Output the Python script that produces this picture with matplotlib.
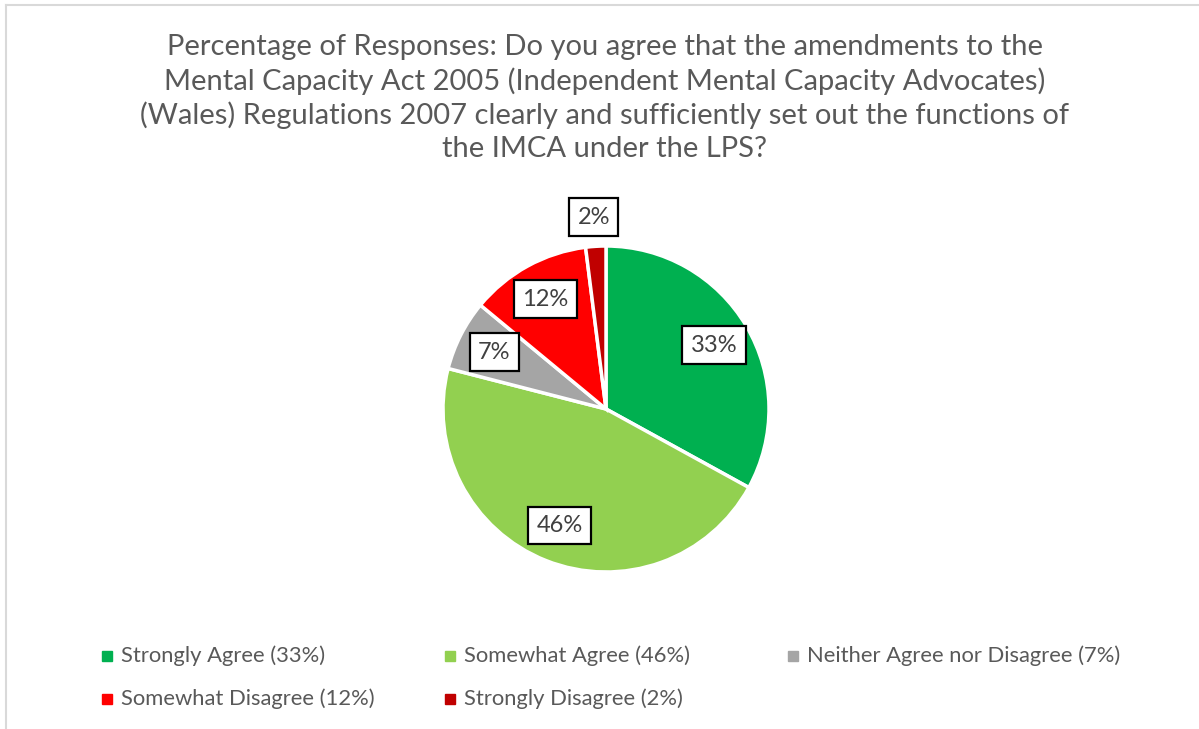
import numpy as np
import matplotlib.pyplot as plt
from matplotlib.lines import Line2D

# Survey responses (percent)
categories = ["Strongly Agree", "Somewhat Agree", "Neither Agree nor Disagree",
              "Somewhat Disagree", "Strongly Disagree"]
shares = [33, 46, 7, 12, 2]
colors = ["#00B050", "#92D050", "#A5A5A5", "#FF0000", "#C00000"]

title = ("Percentage of Responses: Do you agree that the amendments to the\n"
         "Mental Capacity Act 2005 (Independent Mental Capacity Advocates)\n"
         "(Wales) Regulations 2007 clearly and sufficiently set out the functions of\n"
         "the IMCA under the LPS?")

plt.rcParams["font.family"] = ["Lato", "DejaVu Sans"]
W, H = 1199, 729
fig = plt.figure(figsize=(W / 100, H / 100), dpi=100)
fig.patch.set_facecolor("white")

# chart area border (left and top edges only in frame)
fig.add_artist(Line2D([6 / W, 6 / W], [0, 1 - 5 / H], color="#D9D9D9", lw=1.5))
fig.add_artist(Line2D([6 / W, 1], [1 - 5 / H, 1 - 5 / H], color="#D9D9D9", lw=1.5))

fig.text(605 / W, 1 - 98 / H, title, ha="center", va="center", fontsize=21,
         color="#595959", linespacing=1.3)

cx, cy, r = 606, 409, 163
ax = fig.add_axes([(cx - r) / W, (H - cy - r) / H, 2 * r / W, 2 * r / H])
wedges, _ = ax.pie(shares, colors=colors, startangle=90, counterclock=False,
                   wedgeprops=dict(edgecolor="white", linewidth=2.5))
ax.set_xlim(-1, 1)
ax.set_ylim(-1, 1)
ax.set_aspect("equal")
ax.axis("off")

# data labels in boxes; the thin slice gets its label outside
for w, v in zip(wedges, shares):
    mid = np.deg2rad((w.theta1 + w.theta2) / 2)
    dist = 1.18 if v < 5 else 0.77
    ax.text(dist * np.cos(mid), dist * np.sin(mid), f"{v}%", ha="center",
            va="center", fontsize=17, color="#404040",
            bbox=dict(boxstyle="square,pad=0.35", fc="white", ec="black", lw=1.6))

# legend, three columns
for i, (c, lab, v) in enumerate(zip(colors, categories, shares)):
    col, row = i % 3, i // 3
    x0 = 107 + 343 * col
    y0 = 656 + 43 * row
    fig.add_artist(Line2D([x0 / W], [1 - y0 / H], marker="s", markersize=6.5,
                          color=c, transform=fig.transFigure))
    fig.text((x0 + 14) / W, 1 - y0 / H, f"{lab} ({v}%)", ha="left",
             va="center", fontsize=15.8, color="#595959")

fig.savefig("out.png", dpi=100)
